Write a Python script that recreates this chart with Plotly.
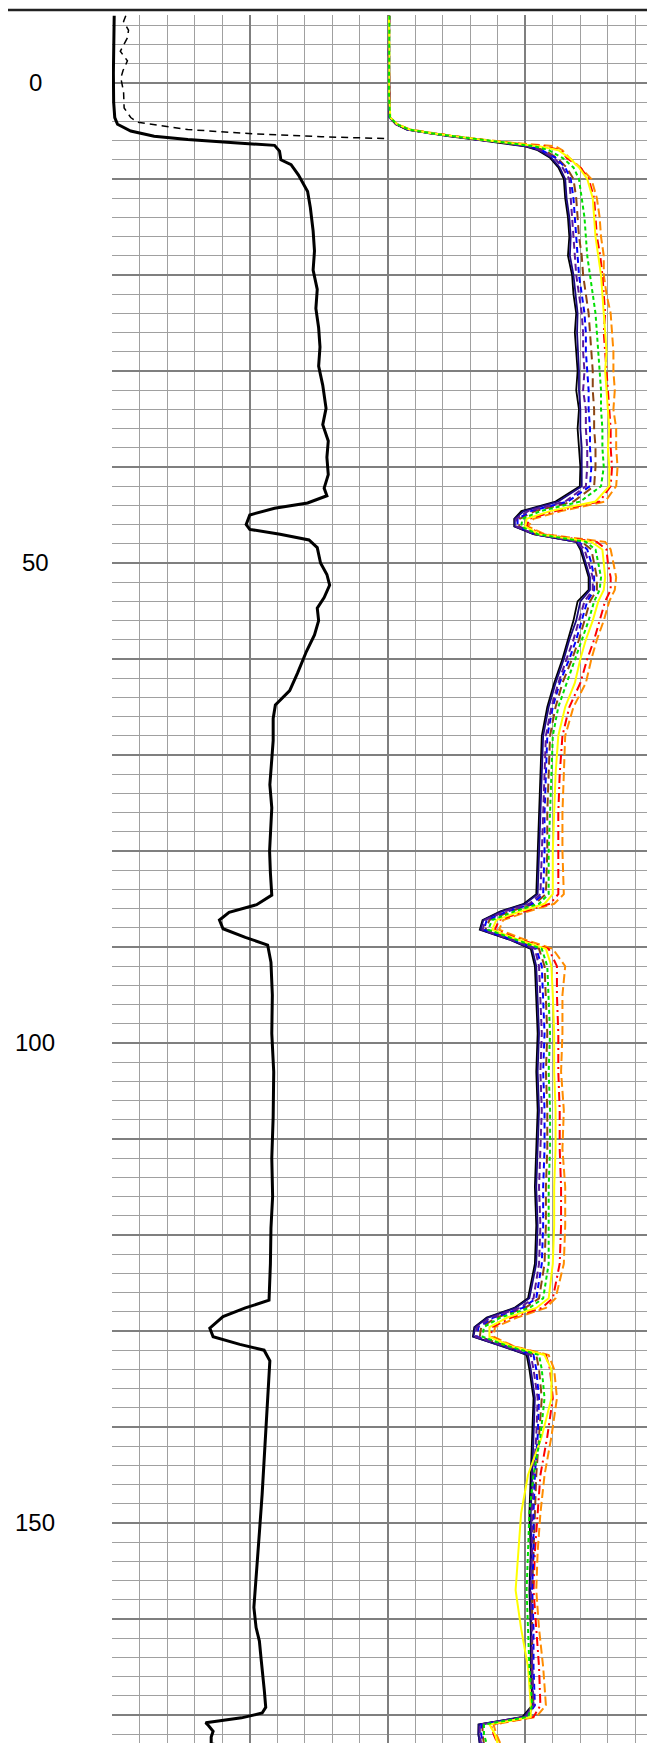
import plotly.graph_objects as go

# ---------------- Left track ----------------
LEFT_SOLID_DEPTH = [-7, -4, -1, 2, 3.6, 4.3, 5.0, 5.55, 5.9, 6.25, 6.5, 7.1, 8.0, 8.5, 9.6, 11.3, 13, 15.4,
                    17.5, 19.5, 21.5, 23.5, 25.5, 27.5, 29.5, 31.5, 33.9, 35.6, 37.3, 39, 40.8, 42.2, 43,
                    43.75, 44.3, 45, 46, 46.5, 47, 47.6, 48.4, 50, 51.2, 52.3, 53.6, 54.7, 56, 57.5, 59.2,
                    61.5, 63.3, 64.8, 66.2, 68.5, 71, 73.1, 75.5, 77.7, 80, 82.3, 84.6, 85.6, 86.4, 87.2,
                    88.1, 89, 89.8, 91.6, 95, 99, 103, 107.7, 112, 116, 119.3, 123, 126.8, 127.6, 128.5,
                    129.7, 130.6, 131.4, 132, 133.1, 137, 142.4, 147, 151, 155, 158.8, 160.9, 162.3,
                    164.1, 165.8, 167.5, 169.2, 169.8, 170.3, 170.8, 171.1, 171.7, 172.3, 173, 173.5, 174]
LEFT_SOLID = [0.08, 0.06, 0.05, 0.06, 0.1, 0.2, 0.68, 1.53, 2.75, 4.56, 5.9, 6.08, 6.13, 6.5, 6.77, 7.1, 7.2, 7.3,
              7.35, 7.3, 7.45, 7.4, 7.5, 7.55, 7.5, 7.65, 7.77, 7.65, 7.85, 7.8, 7.85, 7.7, 7.8,
              7.1, 5.9, 5.0, 4.87, 5.0, 6.1, 7.15, 7.45, 7.57, 7.8, 7.9, 7.7, 7.45, 7.5, 7.35, 7.06,
              6.73, 6.45, 5.93, 5.85, 5.85, 5.78, 5.73, 5.8, 5.77, 5.72, 5.75, 5.8, 5.25, 4.25, 3.9,
              4.03, 4.84, 5.65, 5.77, 5.82, 5.8, 5.87, 5.85, 5.8, 5.83, 5.77, 5.75, 5.7, 4.84, 4.03,
              3.55, 3.67, 4.64, 5.52, 5.73, 5.65, 5.56, 5.45, 5.35, 5.25, 5.15, 5.23, 5.35,
              5.41, 5.48, 5.53, 5.58, 5.45, 4.7, 3.4, 3.5, 3.67, 3.6, 3.6, 4.4, 5.0]

LEFT_DASH_DEPTH = [-7, -6.4, -5.5, -4.7, -3.3, -2.3, -1.3, -0.5, 0.9, 2.6, 3.6, 4.1, 4.85, 5.3, 5.6, 5.8]
LEFT_DASH = [0.5, 0.42, 0.6, 0.56, 0.3, 0.56, 0.4, 0.32, 0.42, 0.44, 0.68, 0.93, 2.75, 5.17, 7.6, 10.0]

# ---------------- Right track ----------------
RIGHT_DEPTH = [-7, -3, 1, 3.6, 4.3, 4.85, 5.2, 5.55, 5.9, 6.25,
               6.6, 7.0, 7.8, 8.8, 10, 12, 14, 16, 18, 20,
               22, 24, 26, 28, 30, 32, 34, 36, 38, 40, 42,
               43.6, 44.6, 45.4, 46.2, 47.0, 47.8, 48.6, 50, 51.5, 52.8,
               54, 56, 58, 60, 62.5, 65, 68, 72, 76, 80, 84.5,
               85.5, 86.3, 87.2, 88.2, 89.2, 90.2, 92,
               95, 99, 103, 107, 111, 115, 119, 123,
               126.6, 127.6, 128.6, 129.6, 130.6, 131.6, 132.5, 134, 137,
               141, 145, 149, 153, 157, 161, 165, 169,
               170.2, 171, 172, 173, 174]

RIGHT_BLACK = [10.06, 10.05, 10.06, 10.08, 10.3, 10.7, 11.4, 12.25, 13.2, 14.2,
               15.0, 15.45, 15.9, 16.2, 16.4, 16.45, 16.55, 16.6, 16.55, 16.7,
               16.75, 16.85, 16.8, 16.85, 16.9, 16.85, 16.95, 16.9, 16.95, 17.0, 16.98,
               16.1, 14.86, 14.6, 14.6, 15.3, 16.85, 17.0, 17.15, 17.3, 17.3,
               16.9, 16.75, 16.55, 16.35, 16.05, 15.8, 15.6, 15.55, 15.5, 15.45, 15.4,
               14.95, 14.1, 13.45, 13.35, 14.4, 15.2, 15.35,
               15.4, 15.45, 15.4, 15.45, 15.4, 15.35, 15.4, 15.35,
               15.1, 14.6, 13.6, 13.15, 13.1, 14.2, 15.05, 15.15, 15.3,
               15.25, 15.2, 15.15, 15.2, 15.15, 15.2, 15.2, 15.25,
               14.9, 13.3, 13.3, 13.35, 13.7]
RIGHT_NAVY = [10.05, 10.06, 10.05, 10.08, 10.32, 10.72, 11.45, 12.3, 13.25, 14.25,
              15.05, 15.5, 15.95, 16.25, 16.45, 16.5, 16.6, 16.65, 16.62, 16.75,
              16.82, 16.9, 16.88, 16.92, 16.95, 16.95, 17.0, 17.0, 17.05, 17.05, 17.05,
              16.2, 14.95, 14.62, 14.62, 15.3, 16.85, 17.05, 17.2, 17.35, 17.35,
              17.0, 16.85, 16.6, 16.4, 16.1, 15.85, 15.65, 15.6, 15.55, 15.5, 15.45,
              15.0, 14.15, 13.48, 13.38, 14.4, 15.25, 15.4,
              15.45, 15.5, 15.45, 15.5, 15.45, 15.4, 15.45, 15.4,
              15.15, 14.65, 13.65, 13.18, 13.12, 14.2, 15.1, 15.2, 15.35,
              15.3, 15.25, 15.2, 15.22, 15.18, 15.22, 15.22, 15.28,
              14.95, 13.32, 13.3, 13.35, 13.72]
RIGHT_PURPLE = [10.07, 10.04, 10.07, 10.09, 10.3, 10.75, 11.45, 12.3, 13.25, 14.3,
                15.1, 15.55, 16.05, 16.35, 16.6, 16.65, 16.7, 16.75, 16.8, 16.85,
                16.95, 17.05, 17.1, 17.1, 17.15, 17.1, 17.2, 17.2, 17.25, 17.25, 17.2,
                16.45, 15.1, 14.68, 14.68, 15.35, 16.9, 17.15, 17.3, 17.45, 17.45,
                17.15, 16.95, 16.75, 16.5, 16.2, 15.95, 15.75, 15.7, 15.65, 15.6, 15.55,
                15.15, 14.25, 13.55, 13.45, 14.45, 15.35, 15.5,
                15.55, 15.6, 15.55, 15.6, 15.55, 15.5, 15.55, 15.5,
                15.3, 14.8, 13.75, 13.25, 13.2, 14.25, 15.2, 15.3, 15.45,
                15.4, 15.3, 15.25, 15.25, 15.2, 15.25, 15.25, 15.3,
                15.0, 13.35, 13.35, 13.4, 13.8]
RIGHT_BLUE = [10.05, 10.07, 10.05, 10.08, 10.32, 10.75, 11.5, 12.35, 13.3, 14.3,
              15.15, 15.6, 16.1, 16.45, 16.65, 16.75, 16.8, 16.85, 16.9, 16.95,
              17.05, 17.15, 17.2, 17.2, 17.25, 17.3, 17.3, 17.35, 17.35, 17.4, 17.35,
              16.55, 15.2, 14.72, 14.72, 15.35, 16.95, 17.25, 17.4, 17.5, 17.5,
              17.25, 17.05, 16.85, 16.6, 16.25, 16.0, 15.8, 15.75, 15.7, 15.7, 15.65,
              15.25, 14.35, 13.6, 13.5, 14.5, 15.4, 15.6,
              15.65, 15.7, 15.65, 15.7, 15.7, 15.65, 15.65, 15.6,
              15.4, 14.9, 13.85, 13.3, 13.25, 14.3, 15.3, 15.4, 15.5,
              15.45, 15.35, 15.3, 15.3, 15.25, 15.3, 15.3, 15.35,
              15.05, 13.4, 13.4, 13.45, 13.85]
RIGHT_BROWN = [10.06, 10.05, 10.07, 10.09, 10.33, 10.75, 11.5, 12.35, 13.3, 14.35,
               15.2, 15.7, 16.15, 16.5, 16.75, 16.85, 16.9, 16.95, 17.05, 17.1,
               17.2, 17.3, 17.35, 17.4, 17.45, 17.45, 17.5, 17.5, 17.55, 17.55, 17.5,
               16.75, 15.35, 14.8, 14.78, 15.4, 17.05, 17.4, 17.5, 17.6, 17.6,
               17.35, 17.15, 16.95, 16.7, 16.35, 16.1, 15.9, 15.85, 15.8, 15.8, 15.75,
               15.35, 14.45, 13.7, 13.55, 14.55, 15.5, 15.7,
               15.75, 15.8, 15.75, 15.8, 15.8, 15.75, 15.75, 15.7,
               15.5, 15.0, 13.95, 13.4, 13.35, 14.35, 15.4, 15.5, 15.6,
               15.5, 15.4, 15.35, 15.3, 15.25, 15.25, 15.25, 15.3,
               15.1, 13.45, 13.45, 13.5, 13.9]
RIGHT_GREEN = [10.07, 10.06, 10.05, 10.09, 10.35, 10.78, 11.5, 12.4, 13.35, 14.4,
               15.35, 15.85, 16.35, 16.75, 16.95, 17.05, 17.15, 17.2, 17.25, 17.35,
               17.45, 17.55, 17.6, 17.65, 17.7, 17.75, 17.75, 17.8, 17.8, 17.85, 17.75,
               17.0, 15.55, 14.9, 14.85, 15.45, 17.2, 17.55, 17.65, 17.75, 17.7,
               17.5, 17.3, 17.05, 16.8, 16.5, 16.2, 16.0, 15.95, 15.9, 15.85, 15.85,
               15.5, 14.6, 13.8, 13.65, 14.6, 15.6, 15.8,
               15.85, 15.9, 15.85, 15.9, 15.9, 15.85, 15.85, 15.85,
               15.65, 15.15, 14.1, 13.5, 13.45, 14.4, 15.5, 15.6, 15.7,
               15.55, 15.3, 15.15, 15.1, 15.05, 15.1, 15.15, 15.25,
               15.1, 13.5, 13.5, 13.6, 14.0]
RIGHT_YELLOW = [10.05, 10.07, 10.06, 10.1, 10.35, 10.8, 11.55, 12.4, 13.35, 14.45,
                15.5, 16.2, 16.6, 16.95, 17.25, 17.45, 17.5, 17.55, 17.65, 17.75,
                17.8, 17.85, 17.9, 17.95, 17.9, 17.95, 18.0, 18.05, 18.0, 18.05, 18.05,
                17.55, 15.9, 15.05, 15.0, 15.5, 17.4, 17.8, 17.85, 17.9, 17.85,
                17.65, 17.45, 17.2, 17.0, 16.8, 16.45, 16.2, 16.1, 16.05, 16.0, 16.0,
                15.7, 14.8, 13.95, 13.8, 14.7, 15.75, 15.95,
                16.0, 16.05, 16.05, 16.1, 16.1, 16.05, 16.05, 16.0,
                15.85, 15.4, 14.35, 13.7, 13.7, 14.5, 15.7, 15.95, 15.95,
                15.6, 15.1, 14.85, 14.75, 14.65, 14.85, 15.1, 15.2,
                15.2, 13.7, 13.9, 14.0, 14.4]
RIGHT_RED = [10.06, 10.05, 10.07, 10.09, 10.34, 10.8, 11.55, 12.45, 13.4, 14.5,
             15.7, 16.3, 16.5, 17.0, 17.3, 17.5, 17.55, 17.6, 17.72, 17.8,
             17.85, 17.9, 17.85, 17.9, 17.95, 18.0, 18.05, 18.1, 18.1, 18.15, 18.1,
             17.7, 16.1, 15.15, 15.05, 15.6, 17.6, 17.95, 18.0, 18.1, 18.1,
             17.9, 17.7, 17.5, 17.25, 17.0, 16.6, 16.35, 16.25, 16.2, 16.2, 16.2,
             15.9, 14.95, 14.05, 13.9, 14.8, 15.85, 16.15,
             16.15, 16.2, 16.2, 16.25, 16.25, 16.3, 16.3, 16.25,
             16.0, 15.6, 14.5, 13.8, 13.75, 14.55, 15.75, 15.9, 16.0,
             15.8, 15.55, 15.45, 15.35, 15.3, 15.4, 15.5, 15.55,
             15.3, 13.75, 13.85, 14.0, 14.4]
RIGHT_ORANGE = [10.07, 10.06, 10.05, 10.1, 10.36, 10.82, 11.6, 12.45, 13.45, 14.6,
                16.1, 16.35, 16.6, 17.0, 17.4, 17.6, 17.7, 17.75, 17.85, 17.85,
                17.95, 18.1, 18.15, 18.2, 18.2, 18.25, 18.2, 18.3, 18.3, 18.35, 18.3,
                17.9, 16.3, 15.3, 15.1, 15.7, 17.9, 18.1, 18.2, 18.3, 18.25,
                18.05, 17.85, 17.6, 17.4, 17.2, 16.75, 16.45, 16.4, 16.35, 16.35, 16.4,
                16.05, 15.1, 14.2, 14.05, 14.95, 16.0, 16.45,
                16.35, 16.35, 16.3, 16.4, 16.35, 16.45, 16.45, 16.4,
                16.1, 15.75, 14.7, 13.9, 13.85, 14.6, 15.85, 16.05, 16.15,
                15.95, 15.7, 15.55, 15.45, 15.4, 15.5, 15.65, 15.75,
                15.4, 13.85, 13.95, 14.1, 14.5]

Y_LABEL_VALUES = [0, 50, 100, 150]
Y_LABEL_TEXT = ["0", "50", "100", "150"]

# ---------------- Figure ----------------
W, H = 655, 1743
ML, MT = 104, 7
PLOT_W = W - ML
PLOT_H = H - MT
PX_PER_UNIT = 9.6
Y_TOP = -7.08
Y_BOT = Y_TOP + PLOT_H / PX_PER_UNIT

fig = go.Figure()

fig.add_trace(go.Scatter(x=LEFT_DASH, y=LEFT_DASH_DEPTH, mode="lines",
                         line=dict(color="black", width=1.5, dash="7px,5px")))
fig.add_trace(go.Scatter(x=LEFT_SOLID, y=LEFT_SOLID_DEPTH, mode="lines",
                         line=dict(color="black", width=3)))

right_series = [
    (RIGHT_BLACK, "#000000", "solid", 1.8),
    (RIGHT_NAVY, "#1A0A80", "solid", 1.8),
    (RIGHT_ORANGE, "#FF8C00", "9px,4px", 2.0),
    (RIGHT_RED, "#FF0000", "9px,4px,2px,4px", 2.0),
    (RIGHT_BROWN, "#8B4513", "9px,5px", 2.0),
    (RIGHT_BLUE, "#0000FF", "6px,4px", 2.0),
    (RIGHT_PURPLE, "#5A1A9A", "7px,4px", 2.0),
    (RIGHT_YELLOW, "#FFFF00", "solid", 2.0),
    (RIGHT_GREEN, "#00E000", "4px,3px", 2.0),
]
for vals, col, dash, w in right_series:
    fig.add_trace(go.Scatter(x=vals, y=RIGHT_DEPTH, mode="lines",
                             line=dict(color=col, width=w, dash=dash)))

fig.update_layout(
    width=W, height=H,
    margin=dict(l=ML, r=0, t=MT, b=0, pad=0),
    paper_bgcolor="white", plot_bgcolor="white",
    showlegend=False,
    xaxis=dict(range=[0, 20], tickmode="array", tickvals=[0, 5, 10, 15, 20],
               showticklabels=False, ticks="", showgrid=True, gridcolor="#7f7f7f", gridwidth=2,
               zeroline=False, showline=False,
               minor=dict(dtick=1, tick0=0, showgrid=True, gridcolor="#a0a0a0", gridwidth=1, ticks="")),
    yaxis=dict(range=[Y_BOT, Y_TOP], tickmode="array", tickvals=list(range(0, 180, 10)),
               showticklabels=False, ticks="", showgrid=True, gridcolor="#7f7f7f", gridwidth=2,
               zeroline=False, showline=False,
               minor=dict(dtick=2, tick0=0, showgrid=True, gridcolor="#a0a0a0", gridwidth=1, ticks="")),
)

for v, t in zip(Y_LABEL_VALUES, Y_LABEL_TEXT):
    fig.add_annotation(x=(27 - ML) / PLOT_W, xref="paper", y=v, yref="y", text=t,
                       showarrow=False, xanchor="center", yanchor="middle",
                       font=dict(family="Liberation Sans, Arial", size=24, color="black"))

# top frame line
fig.add_shape(type="line", xref="paper", yref="paper",
              x0=-ML / PLOT_W, x1=1.0, y0=1 + 5 / PLOT_H, y1=1 + 5 / PLOT_H,
              line=dict(color="#222222", width=2.5))

fig.write_html("out.html")
